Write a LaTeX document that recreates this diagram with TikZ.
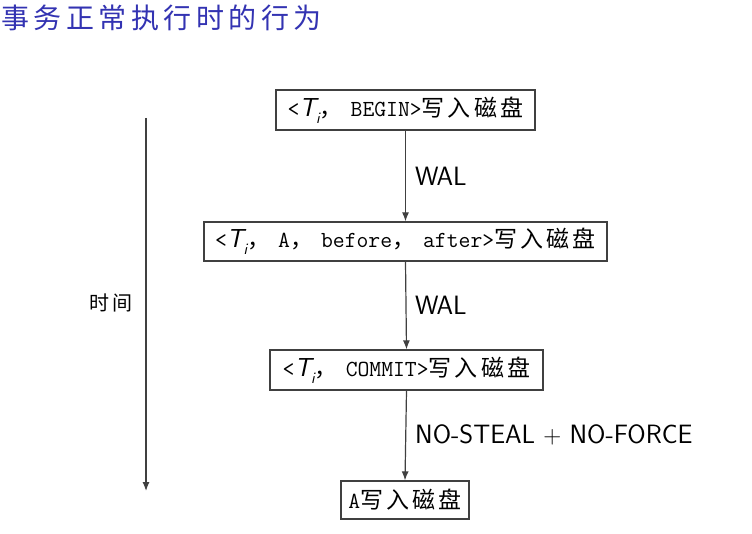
\documentclass[tikz,border=0pt]{standalone}
\usepackage{fontspec}
\newfontfamily\cjkt[LetterSpace=16]{Noto Sans CJK SC}
\newfontfamily\cjkb[LetterSpace=14]{Noto Sans CJK SC}
\newfontfamily\cjkc{Noto Sans CJK SC}
\usetikzlibrary{arrows.meta}
\definecolor{titleblue}{RGB}{51,51,178}
\newcommand{\Ti}{{\sffamily\itshape\fontsize{26}{26}\selectfont T}\raisebox{-0.3em}{\sffamily\itshape\fontsize{16}{16}\selectfont i}}
\newcommand{\cm}{{\cjkc ，}\hspace{8pt}}
\begin{document}
\begin{tikzpicture}[x=1pt,y=-1pt,
  box/.style={draw=black!75, line width=1.2pt, minimum height=40pt, inner sep=0pt,
    font=\fontsize{23}{25}\selectfont\ttfamily},
  conn/.style={draw=black!75, line width=1.2pt, -{Latex[length=9pt,width=7pt]}},
  lab/.style={font=\fontsize{26.5}{30}\selectfont\sffamily, anchor=west, inner sep=0pt}]
\useasboundingbox (0,0) rectangle (752,534);
\node[anchor=west, text=titleblue, font=\fontsize{28}{32}\selectfont\cjkt, inner sep=0pt] (title) at (1,18) {事务正常执行时的行为};

\node[box, minimum width=259pt] (b1) at (405.5,110) {<\Ti\cm BEGIN>{\cjkb 写入磁盘}};
\node[box, minimum width=403pt, minimum height=39pt] (b2) at (405.5,241.5) {<\Ti\cm A\cm before\cm after>{\cjkb 写入磁盘}};
\node[box, minimum width=273pt] (b3) at (406.5,370) {<\Ti\cm COMMIT>{\cjkb 写入磁盘}};
\node[box, minimum width=128pt, minimum height=38pt] (b4) at (405,500) {A{\cjkb 写入磁盘}};

\draw[conn] (b1.south) -- (b2.north);
\draw[conn] (b2.south) -- (b3.north);
\draw[conn] (b3.south) -- (b4.north);

\node[lab] (l1) at (415,176) {WAL};
\node[lab] (l2) at (415,305) {WAL};
\node[lab] (l3) at (415,435) {NO-STEAL $+$ NO-FORCE};

\coordinate (ts) at (146,118);
\coordinate (te) at (146,491);
\draw[conn] (ts) -- (te);
\node[font=\fontsize{20}{24}\selectfont\cjkb, inner sep=0pt] (tl) at (111,303) {时间};
\end{tikzpicture}
\end{document}
